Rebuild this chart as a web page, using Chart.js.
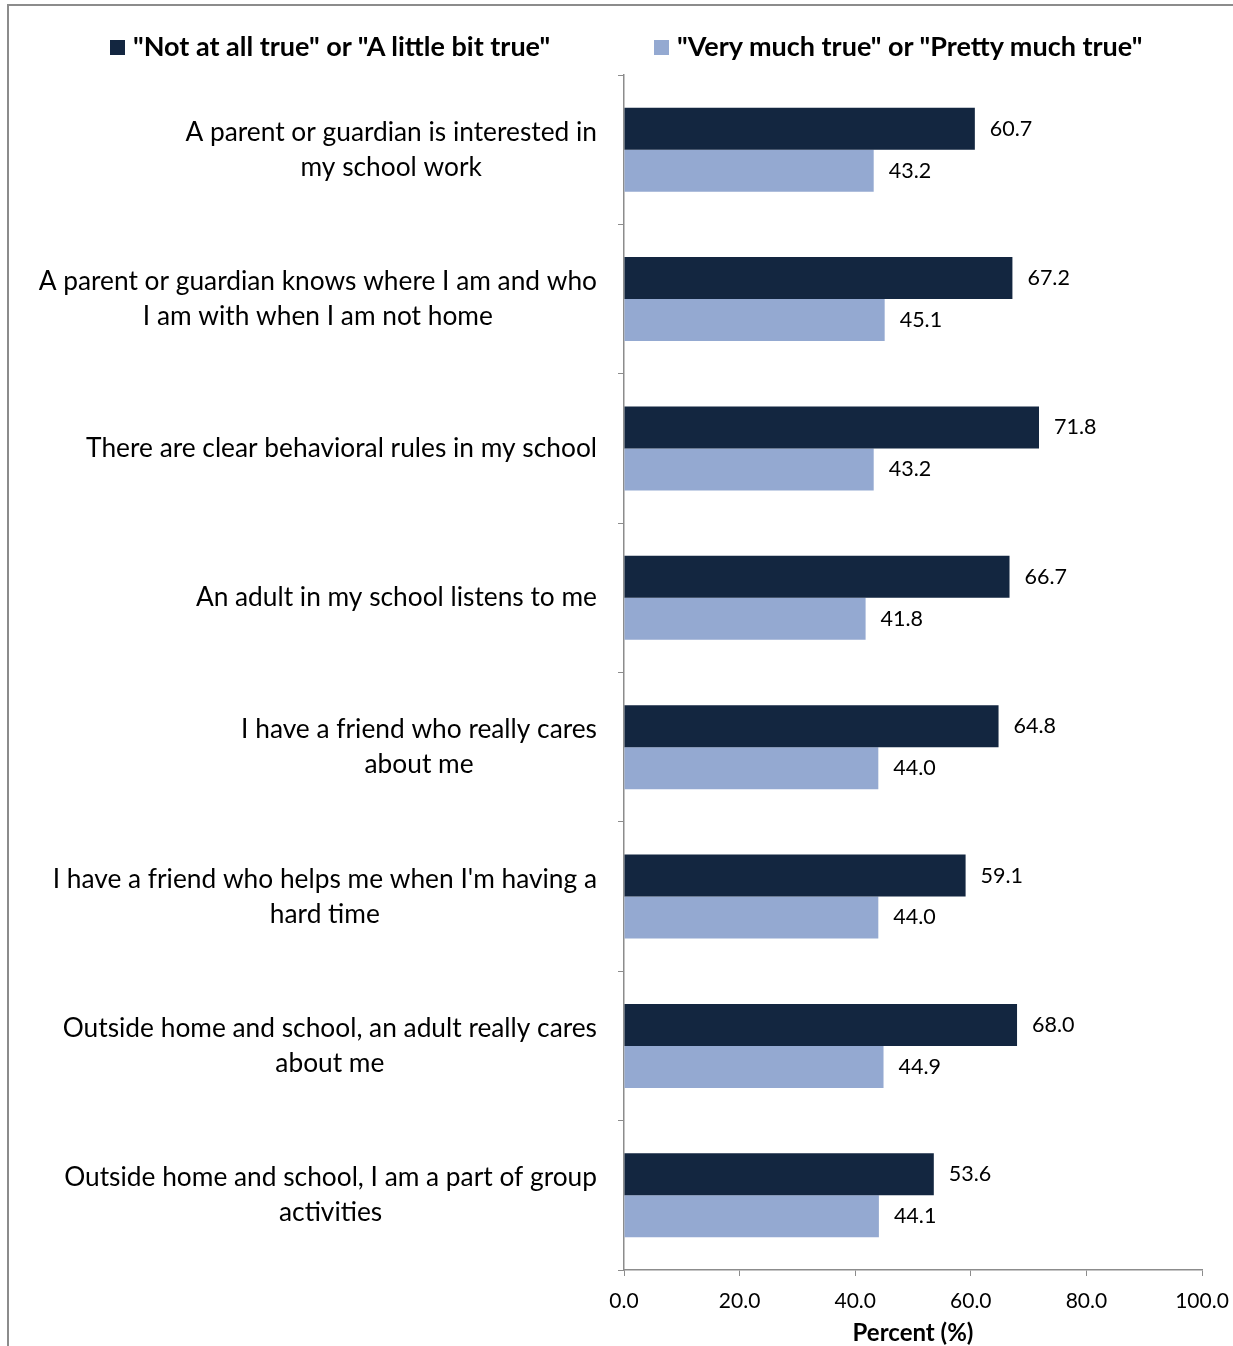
<!DOCTYPE html>
<html>
<head>
<meta charset="utf-8">
<script src="https://cdn.jsdelivr.net/npm/chart.js@4/dist/chart.umd.min.js"></script>
<style>
  html, body { margin: 0; padding: 0; background: #fff; }
  #wrap { position: relative; width: 1233px; height: 1346px; overflow: hidden; }
  #frame { position: absolute; left: 7px; top: 4px; right: -10px; bottom: -10px;
           border-left: 2px solid #8c8c8c; border-top: 2px solid #8c8c8c; pointer-events: none; }
  #legend { position: absolute; top: 29px; left: 0; width: 1233px; height: 34px;
            font-family: Lato, "Noto Sans", sans-serif; font-weight: bold; font-size: 27px; color: #000; }
  .item { position: absolute; top: 0; line-height: 34px; white-space: nowrap; }
  .box { display: inline-block; width: 15px; height: 15px; margin-right: 8px; vertical-align: 1px; }
  #c { position: absolute; left: 0; top: 0; }
</style>
</head>
<body>
<div id="wrap">
  <canvas id="c" width="1233" height="1346"></canvas>
  <div id="legend"></div>
  <div id="frame"></div>
</div>
<script>
const categories = [
  ["A parent or guardian is interested in", "my school work"],
  ["A parent or guardian knows where I am and who", "I am with when I am not home"],
  ["There are clear behavioral rules in my school"],
  ["An adult in my school listens to me"],
  ["I have a friend who really cares", "about me"],
  ["I have a friend who helps me when I'm having a", "hard time"],
  ["Outside home and school, an adult really cares", "about me"],
  ["Outside home and school, I am a part of group", "activities"]
];
const seriesNames = ['"Not at all true" or "A little bit true"', '"Very much true" or "Pretty much true"'];
const notTrue = [60.7, 67.2, 71.8, 66.7, 64.8, 59.1, 68.0, 53.6];
const veryTrue = [43.2, 45.1, 43.2, 41.8, 44.0, 44.0, 44.9, 44.1];
const xTicks = [0, 20, 40, 60, 80, 100];
const axisTitle = "Percent (%)";

const colors = ["#132640", "#94A9D1"];
const FONT = "Lato, 'Noto Sans', sans-serif";

// HTML legend
const legendEl = document.getElementById('legend');
const legendX = [110, 654];
seriesNames.forEach((n, i) => {
  const d = document.createElement('div');
  d.className = 'item';
  d.style.left = legendX[i] + 'px';
  const b = document.createElement('span');
  b.className = 'box';
  b.style.background = colors[i];
  d.appendChild(b);
  d.appendChild(document.createTextNode(n));
  legendEl.appendChild(d);
});

const labelPlugin = {
  id: 'labels',
  afterDraw(chart) {
    const ctx = chart.ctx;
    const yScale = chart.scales.y;
    ctx.save();
    ctx.font = "26.3px " + FONT;
    ctx.fillStyle = "#000";
    ctx.textBaseline = "middle";
    ctx.textAlign = "center";
    const rightEdge = yScale.right - 27;
    const lh = 35;
    categories.forEach((lines, i) => {
      const yc = yScale.getPixelForValue(i);
      const maxW = Math.max(...lines.map(l => ctx.measureText(l).width));
      const cx = rightEdge - maxW / 2;
      const y0 = yc - (lines.length - 1) * lh / 2;
      lines.forEach((l, k) => ctx.fillText(l, cx, y0 + k * lh));
    });
    ctx.font = "21.5px " + FONT;
    ctx.textAlign = "left";
    chart.data.datasets.forEach((ds, di) => {
      const meta = chart.getDatasetMeta(di);
      meta.data.forEach((bar, i) => {
        ctx.fillText(ds.data[i].toFixed(1), bar.x + 15, bar.y);
      });
    });
    ctx.restore();
  }
};

new Chart(document.getElementById('c'), {
  type: 'bar',
  data: {
    labels: categories.map(l => l.join(' ')),
    datasets: [
      { label: seriesNames[0], data: notTrue, backgroundColor: colors[0] },
      { label: seriesNames[1], data: veryTrue, backgroundColor: colors[1] }
    ]
  },
  options: {
    indexAxis: 'y',
    responsive: false,
    animation: false,
    devicePixelRatio: 1,
    layout: { padding: { top: 75, right: 31, bottom: 0, left: 0 } },
    categoryPercentage: 0.562,
    barPercentage: 1.0,
    plugins: { legend: { display: false }, tooltip: { enabled: false } },
    scales: {
      x: {
        min: 0, max: 100,
        afterBuildTicks(scale) { scale.ticks = xTicks.map(v => ({ value: v })); },
        afterFit(scale) { scale.height = 76; scale.paddingLeft = 0; scale.paddingRight = 0; },
        grid: { drawOnChartArea: false, drawTicks: true, tickLength: 6, color: "#8c8c8c" },
        border: { color: "#8c8c8c", width: 1.5 },
        ticks: { color: "#000", font: { family: FONT, size: 21 }, padding: 13,
                 callback: v => Number(v).toFixed(1), maxRotation: 0 },
        title: { display: true, text: axisTitle, color: "#000",
                 font: { family: FONT, size: 24, weight: 'bold' }, padding: { top: 0, bottom: -2 } }
      },
      y: {
        afterFit(scale) { scale.width = 624; },
        grid: { drawOnChartArea: false, drawTicks: true, tickLength: 6, offset: true, color: "#8c8c8c" },
        border: { color: "#8c8c8c", width: 1.5 },
        ticks: { display: false }
      }
    }
  },
  plugins: [labelPlugin]
});
</script>
</body>
</html>
